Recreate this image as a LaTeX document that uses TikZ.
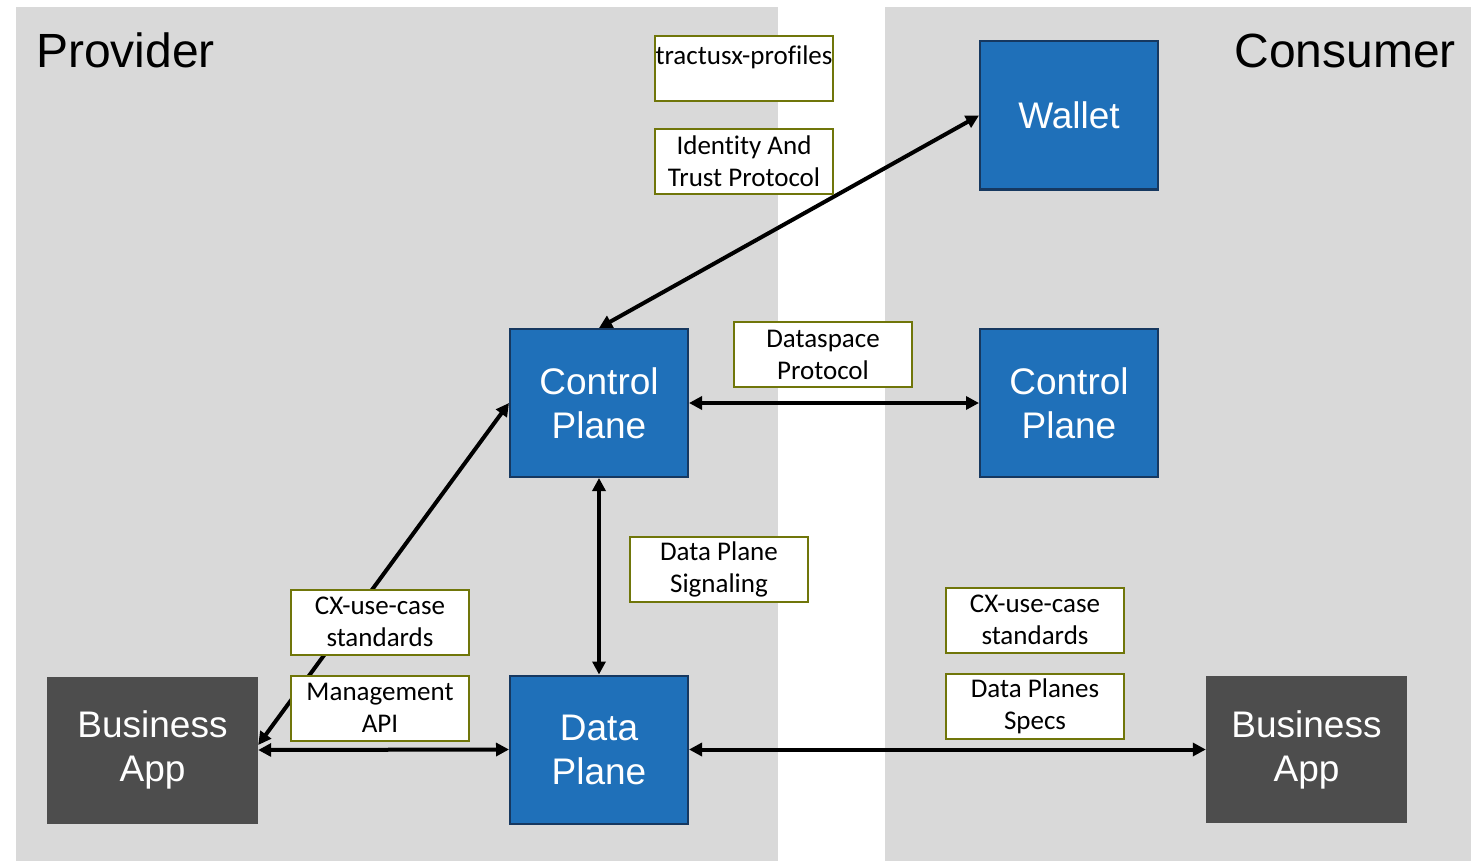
\documentclass[tikz,border=0pt]{standalone}
\usepackage{fontspec}
\setmainfont{Liberation Sans}
\newfontfamily\specfont[Ligatures=NoCommon]{Carlito}
\usetikzlibrary{arrows.meta}

\definecolor{panelgray}{RGB}{217,217,217}
\definecolor{planeblue}{RGB}{31,112,185}
\definecolor{planeedge}{RGB}{22,56,96}
\definecolor{appgray}{RGB}{77,77,77}
\definecolor{specolive}{RGB}{112,118,10}

\begin{document}
\begin{tikzpicture}[x=1pt, y=-1pt,
    plane/.style={draw=planeedge, line width=2pt, fill=planeblue, text=white,
        minimum width=178pt, minimum height=148pt, align=center,
        font=\fontsize{37}{44}\selectfont},
    app/.style={fill=appgray, text=white, minimum height=147pt, align=center,
        font=\fontsize{37}{44}\selectfont},
    spec/.style={draw=specolive, line width=2pt, fill=white, minimum width=178pt,
        minimum height=65pt, inner sep=1pt, align=center,
        font=\specfont\fontsize{27}{32}\selectfont},
    side/.style={inner sep=0pt, font=\fontsize{48}{56}\selectfont},
    link/.style={line width=4pt,
        {Triangle[length=13pt,width=13pt]}-{Triangle[length=13pt,width=13pt]}}]

    % Page and the two sides
    \useasboundingbox[fill=white] (0,0) rectangle (1471,861);
    \fill[panelgray] (16,7) rectangle (778,861);
    \fill[panelgray] (885,7) rectangle (1471,861);
    \node[side, anchor=base west] (provider) at (36,68) {Provider};
    \node[side, anchor=base east] (consumer) at (1456,68) {Consumer};

    % Components
    \node[plane] (wallet) at (1069,115.5) {Wallet};
    \node[plane] (cpP) at (599,403) {Control\\Plane};
    \node[plane] (cpC) at (1069,403) {Control\\Plane};
    \node[plane] (dp) at (599,749.5) {Data\\Plane};
    \node[app, minimum width=211pt] (appL) at (152.5,750) {Business\\App};
    \node[app, minimum width=201pt] (appR) at (1306.5,749.5) {Business\\App};

    % Connections
    \draw[link] (cpP.north) -- (wallet.west);
    \draw[link] (cpP.east) -- (cpC.west);
    \draw[link] (cpP.south) -- (dp.north);
    \draw[link] ([yshift=5pt]appL.east) -- (cpP.west);
    \draw[link] (appL.east) -- (dp.west);
    \draw[link] (dp.east) -- (appR.west);

    % Specifications
    \node[spec] (profiles) at (744,68.5) {tractusx-profiles\\[-14pt]\strut};
    \node[spec] (trust) at (744,161.5) {Identity And\\Trust Protocol};
    \node[spec] (dsp) at (823,354.5) {Dataspace\\Protocol};
    \node[spec] (signal) at (719,569.5) {Data Plane\\Signaling};
    \node[spec] (cxL) at (380,622) {CX-use-case\\standards};
    \node[spec] (mgmt) at (380,708) {Management\\API};
    \node[spec] (cxR) at (1035,620) {CX-use-case\\standards};
    \node[spec] (dpspecs) at (1035,706.5) {Data Planes\\Specs};
\end{tikzpicture}
\end{document}
